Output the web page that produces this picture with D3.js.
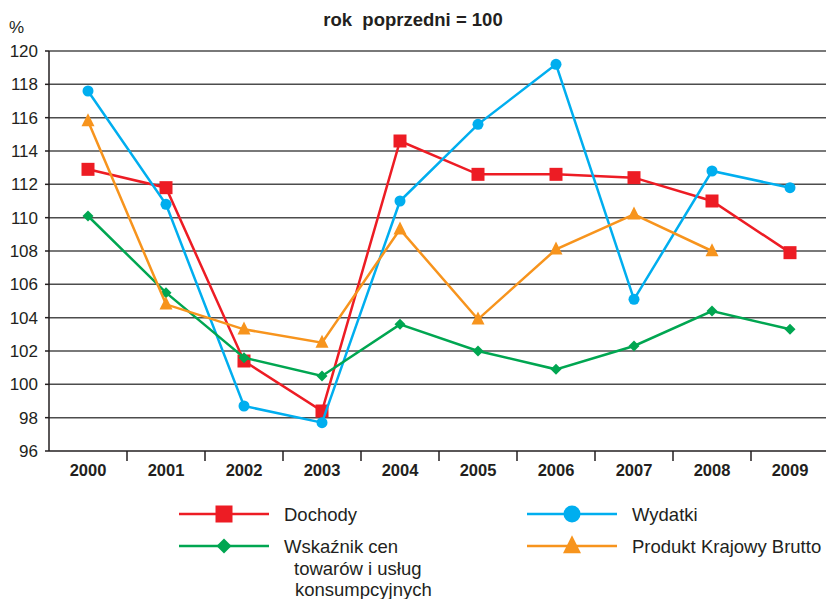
<!DOCTYPE html>
<html><head><meta charset="utf-8">
<script src="https://cdn.jsdelivr.net/npm/d3@7"></script>
<style>body{margin:0;background:#fff}svg{display:block}text{font-family:"Liberation Sans",Arial,sans-serif;fill:#231f20}</style>
</head><body><svg id="c" width="826" height="599"></svg>
<script>
const years = ["2000","2001","2002","2003","2004","2005","2006","2007","2008","2009"];
const dochody = [112.9,111.8,101.4,98.4,114.6,112.6,112.6,112.4,111.0,107.9];
const wydatki = [117.6,110.8,98.7,97.7,111.0,115.6,119.2,105.1,112.8,111.8];
const wskaznik = [110.1,105.5,101.6,100.5,103.6,102.0,100.9,102.3,104.4,103.3];
const pkb = [115.8,104.8,103.3,102.5,109.3,103.9,108.1,110.2,108.0,null];
const yTicks = [96,98,100,102,104,106,108,110,112,114,116,118,120];

const series = [
  {name:"Dochody", values:dochody, color:"#ed1c24", marker:"square"},
  {name:"Wydatki", values:wydatki, color:"#00aeef", marker:"circle"},
  {name:"Wskaźnik cen", values:wskaznik, color:"#00a651", marker:"diamond"},
  {name:"Produkt Krajowy Brutto", values:pkb, color:"#f7941d", marker:"triangle"}
];

const svg = d3.select("#c");
const L=49, R=829, T=51, B=451;
const x = d3.scaleBand().domain(years).range([L,R]);
const y = d3.scaleLinear().domain([96,120]).range([B,T]);

// grid
svg.append("g").selectAll("line").data(yTicks).join("line")
  .attr("x1",L).attr("x2",R).attr("y1",d=>y(d)).attr("y2",d=>y(d))
  .attr("stroke",d=>d===96?"#231f20":"#4d4d4d").attr("stroke-width",1.5);
// y axis line
svg.append("line").attr("x1",L).attr("x2",L).attr("y1",T).attr("y2",B).attr("stroke","#231f20").attr("stroke-width",1.5);
// y labels
svg.append("g").selectAll("text").data(yTicks).join("text")
  .attr("x",38).attr("y",d=>y(d)+6).attr("text-anchor","end").attr("font-size",17).text(d=>d);
// y small ticks
svg.append("g").selectAll("line").data(yTicks).join("line")
  .attr("x1",L-4).attr("x2",L).attr("y1",d=>y(d)).attr("y2",d=>y(d)).attr("stroke","#231f20").attr("stroke-width",1.5);
// x ticks between categories
svg.append("g").selectAll("line").data(years.slice(1)).join("line")
  .attr("x1",d=>x(d)).attr("x2",d=>x(d)).attr("y1",B).attr("y2",B+10)
  .attr("stroke","#231f20").attr("stroke-width",1.5);
// x labels
svg.append("g").selectAll("text").data(years).join("text")
  .attr("x",d=>x(d)+x.bandwidth()/2).attr("y",476).attr("text-anchor","middle")
  .attr("font-size",16.5).attr("font-weight","bold").text(d=>d);

// title & unit
svg.append("text").attr("x",413).attr("y",26).attr("text-anchor","middle").attr("font-size",18.5).attr("font-weight","bold").attr("xml:space","preserve").text("rok  poprzedni = 100");
svg.append("text").attr("x",9).attr("y",33).attr("font-size",17).text("%");

function drawMarker(g, type, cx, cy, color, s){
  if(type==="square") g.append("rect").attr("x",cx-s/2).attr("y",cy-s/2).attr("width",s).attr("height",s).attr("fill",color);
  else if(type==="circle") g.append("circle").attr("cx",cx).attr("cy",cy).attr("r",s/2).attr("fill",color);
  else if(type==="diamond") g.append("path").attr("d",`M${cx},${cy-s/2}L${cx+s/2},${cy}L${cx},${cy+s/2}L${cx-s/2},${cy}Z`).attr("fill",color);
  else if(type==="triangle") g.append("path").attr("d",`M${cx},${cy-s*0.6}L${cx+s/2},${cy+s*0.4}L${cx-s/2},${cy+s*0.4}Z`).attr("fill",color);
}
const msize = {square:13, circle:11, diamond:11, triangle:13};
const lsize = {square:17, circle:17, diamond:15, triangle:18};

const line = d3.line().defined(d=>d!=null).x((d,i)=>x(years[i])+x.bandwidth()/2).y(d=>y(d));
series.forEach(s=>{
  const g = svg.append("g");
  g.append("path").datum(s.values).attr("d",line).attr("fill","none").attr("stroke",s.color).attr("stroke-width",2.5).attr("stroke-linejoin","miter");
  s.values.forEach((v,i)=>{ if(v!=null) drawMarker(g,s.marker,x(years[i])+x.bandwidth()/2,y(v),s.color,msize[s.marker]); });
});

// legend
const legPos = [
  {lx:179, ly:514, tx:284},
  {lx:527, ly:514, tx:632},
  {lx:179, ly:546, tx:284},
  {lx:527, ly:546, tx:632}
];
series.forEach((s,i)=>{
  const p = legPos[i];
  const g = svg.append("g");
  g.append("line").attr("x1",p.lx).attr("x2",p.lx+90).attr("y1",p.ly).attr("y2",p.ly).attr("stroke",s.color).attr("stroke-width",2.5);
  drawMarker(g,s.marker,p.lx+45,p.ly,s.color,lsize[s.marker]);
  g.append("text").attr("x",p.tx).attr("y",p.ly+6.5).attr("font-size",18.5).text(s.name);
});
svg.append("text").attr("x",294).attr("y",574.5).attr("font-size",18.5).text("towarów i usług");
svg.append("text").attr("x",295).attr("y",595.5).attr("font-size",18.5).text("konsumpcyjnych");
</script></body></html>
